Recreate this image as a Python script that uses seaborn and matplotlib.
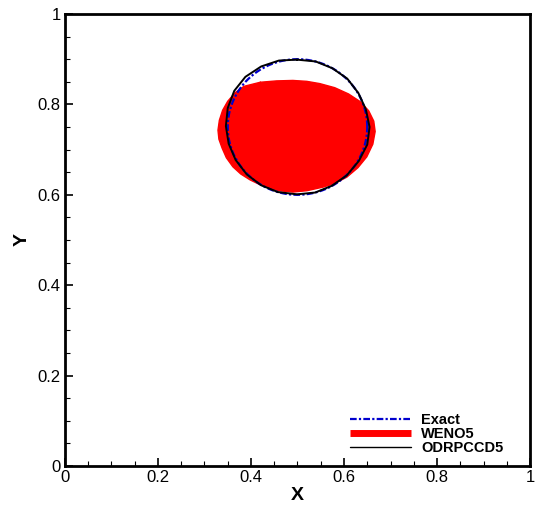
import numpy as np
import pandas as pd
import seaborn as sns
import matplotlib.pyplot as plt
from matplotlib.lines import Line2D
from matplotlib.ticker import MultipleLocator

# exact solution: circle
exact_center = (0.5, 0.75)
exact_radius = 0.15

# WENO5 interface, points (closed outline)
weno_x = [0.420, 0.455, 0.490, 0.520, 0.548, 0.580, 0.610, 0.635, 0.653, 0.664, 0.667,
          0.662, 0.649, 0.630, 0.606, 0.580, 0.555, 0.520, 0.490, 0.460, 0.441, 0.420,
          0.398, 0.378, 0.361, 0.347, 0.338, 0.331, 0.329, 0.332, 0.339, 0.350, 0.366,
          0.385, 0.420]
weno_y = [0.849, 0.852, 0.853, 0.851, 0.846, 0.837, 0.823, 0.806, 0.786, 0.763, 0.740,
          0.712, 0.684, 0.660, 0.639, 0.625, 0.617, 0.609, 0.606, 0.609, 0.615, 0.622,
          0.633, 0.646, 0.662, 0.682, 0.703, 0.723, 0.743, 0.765, 0.787, 0.807, 0.826,
          0.840, 0.849]

# ODRPCCD5 interface, points (closed outline)
odr_x = [0.499, 0.539, 0.575, 0.607, 0.631, 0.647, 0.655, 0.650, 0.632, 0.606, 0.574,
         0.538, 0.499, 0.458, 0.422, 0.391, 0.367, 0.352, 0.346, 0.350, 0.364, 0.388,
         0.422, 0.460, 0.499]
odr_y = [0.899, 0.895, 0.880, 0.857, 0.825, 0.789, 0.750, 0.711, 0.675, 0.643, 0.620,
         0.605, 0.601, 0.606, 0.621, 0.645, 0.677, 0.713, 0.752, 0.792, 0.830, 0.861,
         0.884, 0.897, 0.899]

tick_values = [0, 0.2, 0.4, 0.6, 0.8, 1]
tick_labels = ['0', '0.2', '0.4', '0.6', '0.8', '1']
series_names = ['Exact', 'WENO5', 'ODRPCCD5']

sns.set_style('white')
plt.rcParams['font.family'] = ['Liberation Sans', 'DejaVu Sans']
plt.rcParams['text.color'] = 'black'
plt.rcParams['axes.labelcolor'] = 'black'
plt.rcParams['xtick.color'] = 'black'
plt.rcParams['ytick.color'] = 'black'

fig = plt.figure(figsize=(5.37, 5.09), dpi=100)
ax = fig.add_axes([0.121, 0.0845, 0.866, 0.888])

t = np.linspace(0, 2 * np.pi, 361)
exact = pd.DataFrame({'x': exact_center[0] + exact_radius * np.cos(t),
                      'y': exact_center[1] + exact_radius * np.sin(t)})
weno = pd.DataFrame({'x': weno_x, 'y': weno_y})
odr = pd.DataFrame({'x': odr_x, 'y': odr_y})

ax.fill(weno['x'], weno['y'], color='red', lw=0, zorder=1)
sns.lineplot(data=weno, x='x', y='y', sort=False, estimator=None, color='red',
             lw=1, ax=ax, zorder=1)
sns.lineplot(data=exact, x='x', y='y', sort=False, estimator=None, color='mediumblue',
             lw=1.6, linestyle=(0, (3, 1, 1, 1)), ax=ax, zorder=2)
sns.lineplot(data=odr, x='x', y='y', sort=False, estimator=None, color='black',
             lw=1.4, ax=ax, zorder=3)

ax.set_xlim(0, 1)
ax.set_ylim(0, 1)
ax.set_xticks(tick_values)
ax.set_xticklabels(tick_labels)
ax.set_yticks(tick_values)
ax.set_yticklabels(tick_labels)
ax.xaxis.set_minor_locator(MultipleLocator(0.05))
ax.yaxis.set_minor_locator(MultipleLocator(0.05))
ax.tick_params(which='major', direction='in', length=6, width=1.2, labelsize=12,
               pad=3, bottom=True, left=True, colors='black')
ax.tick_params(which='minor', direction='in', length=3.5, width=0.8, bottom=True, left=True,
               colors='black')
for s in ax.spines.values():
    s.set_linewidth(2)
    s.set_color('black')

ax.set_xlabel('X', fontsize=14, fontweight='bold', labelpad=1, color='black')
ax.set_ylabel('Y', fontsize=14, fontweight='bold', labelpad=5, color='black')

handles = [Line2D([], [], color='mediumblue', lw=1.6, linestyle=(0, (3, 1, 1, 1))),
           Line2D([], [], color='red', lw=5, solid_capstyle='butt'),
           Line2D([], [], color='black', lw=1)]
ax.legend(handles, series_names,
          loc='lower left', bbox_to_anchor=(0.612, 0.025), frameon=False,
          prop={'weight': 'bold', 'size': 10.5}, handlelength=4.2, handletextpad=0.7,
          labelspacing=0.0, borderpad=0, borderaxespad=0)

fig.savefig('out.png', dpi=100)
